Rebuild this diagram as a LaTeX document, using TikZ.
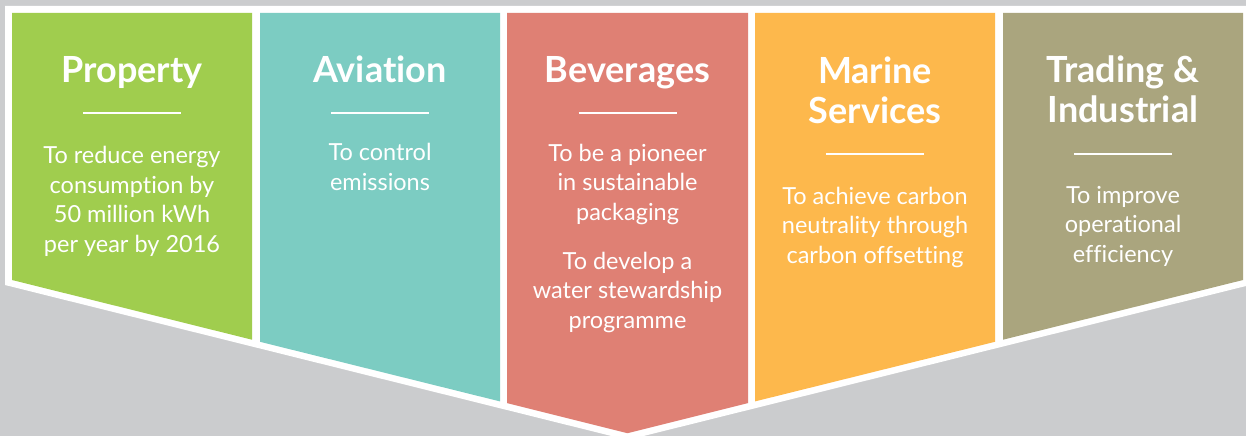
\documentclass[tikz,border=0pt]{standalone}
\usepackage{fontspec}
\setmainfont{Lato}[Ligatures=NoCommon]
\usepackage{xcolor}
\usetikzlibrary{positioning}

\definecolor{bggray}{HTML}{CBCCCE}
\definecolor{propgreen}{HTML}{A0CD4E}
\definecolor{aviateal}{HTML}{7CCCC2}
\definecolor{bevsalmon}{HTML}{DF8074}
\definecolor{marorange}{HTML}{FDB84C}
\definecolor{tradkhaki}{HTML}{AAA57E}

\begin{document}
\begin{tikzpicture}[
  x=1pt, y=-1pt,
  panel/.style={draw=none},
  title/.style={anchor=base, text=white, align=center, inner sep=0pt,
    font=\fontsize{36}{40}\selectfont\bfseries},
  goal/.style={anchor=base, text=white, align=center, inner sep=0pt,
    font=\fontsize{23.5}{29.5}\selectfont},
  rulebar/.style={white, line width=2.2pt}
]
  \useasboundingbox (0,0) rectangle (1246,436);
  \clip (0,0) rectangle (1246,436);
  \fill[bggray] (0,0) rectangle (1246,436);

  % white chevron outline
  \fill[white] (5,6) -- (1250,6) -- (1250,285) -- (627.5,440) -- (5,285) -- cycle;

  % coloured panels
  \fill[panel, propgreen]  (12,13)   -- (252,13)   -- (252,339.7)  -- (12,280) -- cycle;
  \fill[panel, aviateal]   (260,13)  -- (500,13)   -- (500,401.4)  -- (260,341.8) -- cycle;
  \fill[panel, bevsalmon]  (507,13)  -- (748,13)   -- (748,403.1)  -- (627.5,433.2) -- (507,403.1) -- cycle;
  \fill[panel, marorange]  (755,13)  -- (995,13)   -- (995,341.8)  -- (755,401.4) -- cycle;
  \fill[panel, tradkhaki]  (1003,13) -- (1243,13)  -- (1243,280)   -- (1003,339.7) -- cycle;

  % titles (base = last line)
  \node[title] (prop) at (132,82)    {Property};
  \node[title] (avia) at (380,82)    {Aviation};
  \node[title] (bev)  at (627.5,82)  {Beverages};
  \node[title] (mar)  at (875,123)   {Marine\\Services};
  \node[title] (trad) at (1123,122)  {Trading \&\\Industrial};

  % rules under titles
  \draw[rulebar] (83,113)    -- (181,113);
  \draw[rulebar] (331,113)   -- (429,113);
  \draw[rulebar] (578.5,113) -- (676.5,113);
  \draw[rulebar] (826,154)   -- (924,154);
  \draw[rulebar] (1074,154)  -- (1172,154);

  % goals (base = last line)
  \node[goal] (propgoal) at (132,252)   {To reduce energy\\consumption by\\50 million kWh\\per year by 2016};
  \node[goal] (aviagoal) at (380,190)   {To control\\emissions};
  \node[goal] (bevgoala) at (627.5,220) {To be a pioneer\\in sustainable\\packaging};
  \node[goal] (bevgoalb) at (627.5,328) {To develop a\\water stewardship\\programme};
  \node[goal] (margoal)  at (875,263)   {To achieve carbon\\neutrality through\\carbon offsetting};
  \node[goal] (tradgoal) at (1123,262)  {To improve\\operational\\efficiency};
\end{tikzpicture}
\end{document}
